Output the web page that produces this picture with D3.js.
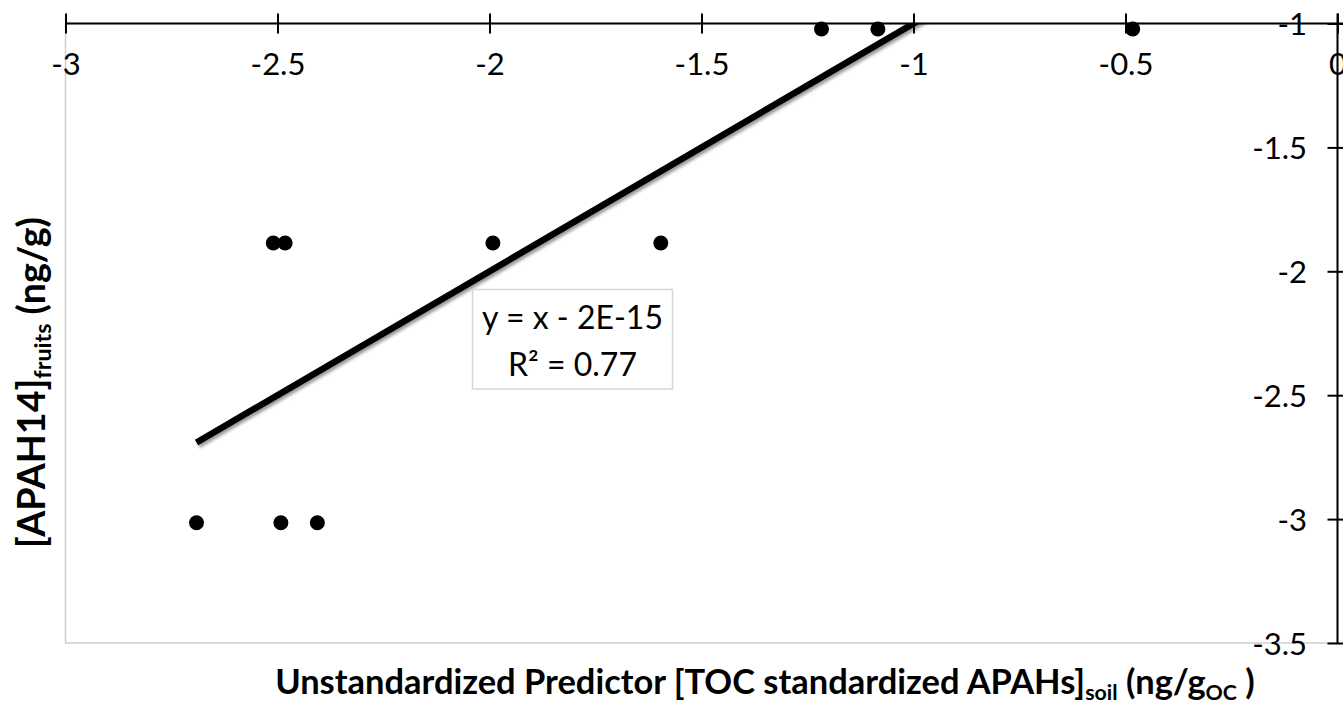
<!DOCTYPE html>
<html>
<head>
<meta charset="utf-8">
<script src="https://cdn.jsdelivr.net/npm/d3@7/dist/d3.min.js"></script>
<style>
  html, body { margin: 0; padding: 0; background: #fff; }
  svg { display: block; }
  text { font-family: Lato, "Open Sans", sans-serif; fill: #000; }
</style>
</head>
<body>
<svg id="chart" width="1343" height="704"></svg>
<script>
// Observations: predictor (x) and fruit concentration (y), log scale
const predictorX = [-2.691, -2.492, -2.406, -2.510, -2.482, -1.992, -1.596, -1.217, -1.084, -0.483];
const fruitsY    = [-3.015, -3.015, -3.015, -1.886, -1.886, -1.886, -1.886, -1.022, -1.022, -1.022];

// Linear trend line as reported
const trendSlope = 1;
const trendIntercept = -2e-15;
const trendR2 = 0.77;

// Axis ticks
const xTicks = [-3, -2.5, -2, -1.5, -1, -0.5, 0];
const yTicks = [-1, -1.5, -2, -2.5, -3, -3.5];
const xDomain = [-3, 0];
const yDomain = [-3.5, -1];

const svg = d3.select("#chart");
const W = 1343, H = 704;
const plot = { left: 65.5, right: 1337.5, top: 23.5, bottom: 643 };
const tickFont = "31px";

const x = d3.scaleLinear().domain(xDomain).range([plot.left, plot.right]);
const y = d3.scaleLinear().domain(yDomain).range([plot.bottom, plot.top]);

const defs = svg.append("defs");
defs.append("clipPath").attr("id", "plotClip")
  .append("rect")
  .attr("x", plot.left).attr("y", plot.top)
  .attr("width", plot.right - plot.left).attr("height", plot.bottom - plot.top);
const shadow = defs.append("filter").attr("id", "lineShadow")
  .attr("x", "-10%").attr("y", "-10%").attr("width", "120%").attr("height", "120%");
shadow.append("feDropShadow")
  .attr("dx", 2).attr("dy", 2.5).attr("stdDeviation", 1.8)
  .attr("flood-color", "#000").attr("flood-opacity", 0.4);

// Plot area frame
svg.append("rect")
  .attr("x", plot.left).attr("y", plot.top)
  .attr("width", plot.right - plot.left).attr("height", plot.bottom - plot.top)
  .attr("fill", "none").attr("stroke", "#cfcfcf").attr("stroke-width", 1.5);

// Horizontal axis crossing at y = -1 (top)
const xAxis = d3.axisBottom(x).tickValues(xTicks).tickSizeOuter(0)
  .tickFormat(d => String(d));
const gx = svg.append("g").attr("transform", `translate(0,${y(-1)})`).call(xAxis);
gx.select(".domain").attr("stroke", "#000").attr("stroke-width", 2)
  .attr("d", `M${plot.left},0H${W}`);
gx.selectAll(".tick line").attr("y1", -10).attr("y2", 10)
  .attr("stroke", "#000").attr("stroke-width", 2);
gx.selectAll(".tick text").attr("y", 51.5).attr("dy", 0)
  .style("font-size", tickFont).style("font-family", "Lato, sans-serif").attr("fill", "#000");

// Vertical axis crossing at x = 0 (right)
const yAxis = d3.axisLeft(y).tickValues(yTicks).tickSizeOuter(0)
  .tickFormat(d => String(d));
const gy = svg.append("g").attr("transform", `translate(${x(0)},0)`).call(yAxis);
gy.select(".domain").attr("stroke", "#000").attr("stroke-width", 2)
  .attr("d", `M0,${plot.top - 10}V${plot.bottom}`);
gy.selectAll(".tick line").attr("x1", -10).attr("x2", 10)
  .attr("stroke", "#000").attr("stroke-width", 2);
gy.selectAll(".tick text").attr("x", -30.5).attr("dy", 0).attr("y", 11)
  .style("font-size", tickFont).style("font-family", "Lato, sans-serif").attr("fill", "#000");

// Trend line over the observed x range, clipped to plot area
const xMin = d3.min(predictorX), xMax = d3.max(predictorX);
svg.append("g").attr("clip-path", "url(#plotClip)")
  .append("line")
  .attr("x1", x(xMin)).attr("y1", y(trendSlope * xMin + trendIntercept))
  .attr("x2", x(xMax)).attr("y2", y(trendSlope * xMax + trendIntercept))
  .attr("stroke", "#000").attr("stroke-width", 6.5)
  .attr("filter", "url(#lineShadow)");

// Points
svg.append("g").selectAll("circle")
  .data(predictorX.map((v, i) => [v, fruitsY[i]]))
  .join("circle")
  .attr("cx", d => x(d[0])).attr("cy", d => y(d[1]))
  .attr("r", 7.5).attr("fill", "#000");

// Equation label
const expFmt = v => d3.format(".0e")(Math.abs(v)).toUpperCase();
const slopeTxt = trendSlope === 1 ? "x" : `${trendSlope}x`;
const eqTxt = `y = ${slopeTxt} ${trendIntercept < 0 ? "-" : "+"} ${expFmt(trendIntercept)}`;
const r2Txt = `R² = ${trendR2}`;
const box = { x: 472.5, y: 289.5, w: 200, h: 99.5 };
svg.append("rect").attr("x", box.x).attr("y", box.y).attr("width", box.w).attr("height", box.h)
  .attr("fill", "#fff").attr("stroke", "#d6d6d6").attr("stroke-width", 1.5);
svg.append("text").attr("x", box.x + box.w / 2).attr("y", 329)
  .attr("text-anchor", "middle").style("font-size", "32px").text(eqTxt);
svg.append("text").attr("x", box.x + box.w / 2).attr("y", 376)
  .attr("text-anchor", "middle").style("font-size", "32px").text(r2Txt);

// Axis titles with subscripts, sized to their spans
function titleText(parent, parts) {
  const t = parent.append("text").attr("text-anchor", "middle")
    .style("font-weight", "bold").style("font-size", "32px");
  let shift = 0;
  parts.forEach(p => {
    const s = t.append("tspan").text(p.text);
    if (p.sub) {
      s.style("font-size", "0.62em").attr("dy", "0.26em");
      shift = 0.26 * 0.62;
    } else if (shift) {
      s.attr("dy", `${-shift}em`);
      shift = 0;
    }
  });
  return t;
}
function fitWidth(t, target) {
  const w = t.node().getComputedTextLength();
  t.style("font-size", (32 * target / w) + "px");
}

const xTitle = titleText(svg.append("g").attr("transform", "translate(765,694)"), [
  { text: "Unstandardized Predictor [TOC standardized APAHs]" },
  { text: "soil", sub: true },
  { text: " (ng/g" },
  { text: "OC", sub: true },
  { text: " )" }
]);
fitWidth(xTitle, 980);

const yTitle = titleText(svg.append("g").attr("transform", "translate(45,382.5) rotate(-90)"), [
  { text: "[APAH14]" },
  { text: "fruits", sub: true },
  { text: " (ng/g)" }
]);
fitWidth(yTitle, 331);
</script>
</body>
</html>
